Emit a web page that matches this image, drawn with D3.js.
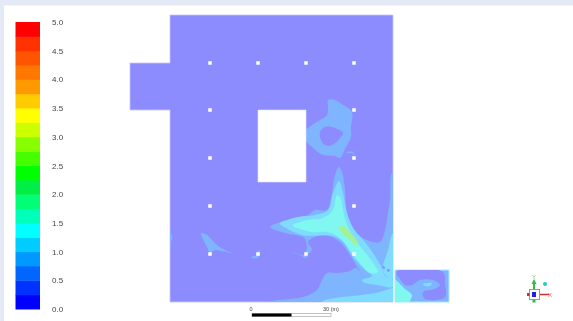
<!DOCTYPE html>
<html>
<head>
<meta charset="utf-8">
<script src="https://cdn.jsdelivr.net/npm/d3@7"></script>
<style>
  html, body { margin: 0; padding: 0; background: #fff; overflow: hidden; }
  text { font-family: "Liberation Sans", Arial, sans-serif; }
</style>
</head>
<body>
<div id="chart"></div>
<script>
// Legend: 20 bands from 0 to 5, colours listed from the bottom up
const legendColors = ['#0000ff', '#0033ff', '#0066ff', '#0099ff', '#00ccff', '#00ffff', '#00ffbb', '#00ff77', '#00ee44', '#00ff00',
    '#44ff00', '#88ff00', '#ccff00', '#ffff00', '#ffcc00', '#ff9900', '#ff7700', '#ff5500', '#ff3300', '#ff0000'];
const legendTicks = [0, 0.5, 1, 1.5, 2, 2.5, 3, 3.5, 4, 4.5, 5];

// Floor plan outlines, in model units (x from the west wall, y from the north wall)
const planOutline = [[40, 0], [263, 0], [263, 287], [40, 287], [40, 95], [0, 95], [0, 48], [40, 48]];
const coreOutline = [[128, 95], [176, 95], [176, 167], [128, 167]];
const roomOutline = [[265, 255], [319, 255], [319, 287], [265, 287]];
const columnPoints = [[80, 48], [128, 48], [176, 48], [224, 48], [80, 95], [224, 95], [80, 143], [224, 143],
    [80, 191], [224, 191], [80, 239], [128, 239], [176, 239], [224, 239]];

// Contours, band 0.25 - 0.5
const ringBand = [[198, 85], [205, 85], [213, 90], [222, 97], [221, 112], [221, 122], [216, 132], [210, 143], [205, 141],
    [193, 140], [183, 133], [174, 123], [174, 117], [185, 108], [197, 100], [198, 92]];
const ringArc = [[217, 137], [223, 137], [225, 140], [222, 138], [217, 138]];
const mainBand = [[140, 212], [158, 205], [178, 200], [185, 195], [197, 195], [202, 178], [205, 160], [209, 152], [212, 157],
    [215, 175], [217, 198], [227, 218], [237, 225], [250, 227], [255, 215], [258, 198], [260, 185], [262, 158],
    [266, 158], [266, 290], [140, 290], [140, 287], [160, 284], [173, 282], [187, 275], [192, 265], [197, 258], [207, 258],
    [220, 256], [226, 253], [234, 262], [228, 253], [220, 240], [210, 227], [198, 221], [185, 222], [178, 227], [182, 235],
    [178, 239], [175, 239], [177, 233], [175, 224], [173, 222], [155, 218]];
const patchWest = [[71, 218], [77, 220], [87, 230], [97, 236], [102, 238], [92, 236], [85, 235], [80, 238], [77, 232]];
const patchColumn = [[121, 242], [127, 240], [129, 234], [130, 240], [127, 243], [122, 243]];
const patchWall = [[38, 215], [41, 218], [42, 225], [38, 227]];
const patchSouth = [[162, 237], [170, 240], [175, 243], [178, 241], [173, 240]];

// Band 0 - 0.25 showing through the ring and the small room
const ringHole = [[190, 117], [195, 112], [205, 113], [213, 118], [210, 123], [202, 130], [195, 130], [191, 125]];
const roomCalm = [[267, 256], [313, 257], [315, 269], [315, 282], [295, 284], [293, 277], [305, 274], [310, 270], [303, 265],
    [290, 265], [282, 270], [275, 270], [270, 264], [267, 260]];
const pocketA = [[252, 251], [255, 252], [254, 254]];
const pocketB = [[257, 254], [260, 255], [258, 257]];

// Band 0.5 - 0.75
const mainInner = [[150, 208], [168, 202], [185, 200], [198, 195], [203, 178], [209, 166], [213, 178], [217, 198], [223, 213],
    [233, 225], [243, 238], [252, 253], [255, 261], [263, 265], [263, 272], [247, 270], [233, 267], [232, 265], [242, 261],
    [233, 253], [223, 242], [213, 227], [203, 221], [172, 220], [150, 209]];
const southStrip = [[193, 286], [212, 282], [223, 281], [245, 278], [263, 273], [266, 273], [266, 290], [190, 290]];
const wallStrip = [[266, 218], [263, 218], [258, 235], [253, 252], [255, 260], [263, 265], [266, 265]];
const roomSpot = [[293, 269], [302, 268], [300, 271], [295, 271]];

// Band 0.75 - 1 and the peak
const mainCore = [[163, 210], [178, 205], [193, 203], [203, 195], [207, 180], [210, 182], [213, 195], [216, 207], [223, 222],
    [233, 235], [243, 248], [248, 257], [240, 258], [230, 248], [220, 235], [210, 223], [198, 217], [182, 217], [163, 211]];
const roomBlob = [[262, 262], [265, 264], [275, 274], [282, 280], [280, 286], [278, 290], [262, 290]];
const mainPeak = [[209, 211], [213, 211], [228, 228], [227, 231], [220, 225], [210, 215]];

const scaleBarTicks = [0, 15, 30];

const width = 573;
const height = 321;

const svg = d3.select("#chart")
    .append("svg")
    .attr("width", width)
    .attr("height", height)
    .style("display", "block");

const defs = svg.append("defs");
defs.append("filter").attr("id", "soft")
    .append("feGaussianBlur").attr("stdDeviation", 0.4);
defs.append("filter").attr("id", "softer")
    .append("feGaussianBlur").attr("stdDeviation", 0.6);

// Light frame of the viewer window
svg.append("rect").attr("width", width).attr("height", 5.5).attr("fill", "#e3e9f5");
svg.append("rect").attr("width", 4).attr("height", height).attr("fill", "#e3e9f5");

const x = d3.scaleLinear().domain([0, 320]).range([130, 450]);
const y = d3.scaleLinear().domain([0, 288]).range([15, 303]);

const smooth = d3.line().x(d => x(d[0])).y(d => y(d[1])).curve(d3.curveCatmullRomClosed.alpha(0.5));
const sharp = d3.line().x(d => x(d[0])).y(d => y(d[1])).curve(d3.curveLinearClosed);

defs.append("clipPath").attr("id", "plan-clip").append("path").attr("d", sharp(planOutline));
defs.append("clipPath").attr("id", "room-clip").append("path").attr("d", sharp(roomOutline));

const calm = "#8c8cff";
const band1 = "#7fb4ff";
const band2 = "#7fdcff";
const band3 = "#80f8f0";
const peak = "#a4f294";

const map = svg.append("g").attr("filter", "url(#soft)");

// Main floor
map.append("path").attr("d", sharp(planOutline)).attr("fill", calm).attr("stroke", "#c4c4ff").attr("stroke-width", 0.8);
const floor = map.append("g").attr("clip-path", "url(#plan-clip)");
const floorLayers = [
    [ringBand, band1], [ringHole, calm], [ringArc, band1], [mainBand, band1], [patchWest, band1], [patchColumn, band1],
    [patchWall, band1], [patchSouth, band1], [mainInner, band2], [southStrip, band2], [wallStrip, band2],
    [mainCore, band3], [mainPeak, peak], [pocketA, calm], [pocketB, calm]
];
floor.selectAll("path")
    .data(floorLayers)
    .enter().append("path")
    .attr("d", d => smooth(d[0]))
    .attr("fill", d => d[1]);

// Small room
map.append("path").attr("d", sharp(roomOutline)).attr("fill", band1).attr("stroke", "#a8e4ff").attr("stroke-width", 1);
const room = map.append("g").attr("clip-path", "url(#room-clip)");
const roomLayers = [[roomCalm, calm], [roomSpot, band2], [roomBlob, band3]];
room.selectAll("path")
    .data(roomLayers)
    .enter().append("path")
    .attr("d", d => smooth(d[0]))
    .attr("fill", d => d[1]);

// Core opening and columns
map.append("path").attr("d", sharp(coreOutline)).attr("fill", "#fff").attr("stroke", "#e4e4ff").attr("stroke-width", 0.6);
map.selectAll("rect.column")
    .data(columnPoints)
    .enter().append("rect")
    .attr("class", "column")
    .attr("x", d => x(d[0]) - 1.75)
    .attr("y", d => y(d[1]) - 1.75)
    .attr("width", 3.5)
    .attr("height", 3.5)
    .attr("fill", "#fff");

// Colour legend
const legendY = d3.scaleLinear().domain([0, 5]).range([309, 22]);
const legend = svg.append("g").attr("filter", "url(#soft)");
legend.selectAll("rect")
    .data(legendColors)
    .enter().append("rect")
    .attr("x", 15.5)
    .attr("width", 24.5)
    .attr("y", (d, i) => legendY((i + 1) * 0.25))
    .attr("height", (d, i) => legendY(i * 0.25) - legendY((i + 1) * 0.25) + 0.5)
    .attr("fill", d => d);

const legendAxis = svg.append("g")
    .attr("transform", "translate(52,0)")
    .attr("filter", "url(#soft)")
    .call(d3.axisRight(legendY).tickValues(legendTicks).tickFormat(d3.format(".1f")).tickSize(0).tickPadding(0));
legendAxis.select(".domain").remove();
legendAxis.selectAll("text").style("font-size", "8px").attr("fill", "#444");

// Scale bar
const barX = d3.scaleLinear().domain([0, 30]).range([252, 331]);
const bar = svg.append("g").attr("filter", "url(#soft)");
bar.append("rect").attr("x", barX(0)).attr("y", 313.5).attr("width", barX(30) - barX(0)).attr("height", 3)
    .attr("fill", "#fff").attr("stroke", "#aaa").attr("stroke-width", 0.7);
bar.append("rect").attr("x", barX(0)).attr("y", 313.5).attr("width", barX(15) - barX(0)).attr("height", 3)
    .attr("fill", "#000");
bar.selectAll("text")
    .data([scaleBarTicks[0], scaleBarTicks[2]])
    .enter().append("text")
    .attr("x", d => d === 0 ? barX(d) - 1 : barX(d))
    .attr("y", 311)
    .attr("text-anchor", "middle")
    .style("font-size", "5.5px")
    .attr("fill", "#444")
    .text(d => d === 0 ? "0" : d + " (m)");

// Axis triad
const triad = svg.append("g").attr("filter", "url(#softer)");
triad.append("rect").attr("x", 529.5).attr("y", 289.5).attr("width", 10).attr("height", 10)
    .attr("fill", "#fff").attr("stroke", "#999").attr("stroke-width", 1);
triad.append("rect").attr("x", 532).attr("y", 292).attr("width", 4).attr("height", 5).attr("fill", "#2222dd");
triad.append("line").attr("x1", 534).attr("x2", 534).attr("y1", 289).attr("y2", 281)
    .attr("stroke", "#33bb44").attr("stroke-width", 2);
triad.append("path").attr("d", "M531.5,284 L536.5,284 L534,279 Z").attr("fill", "#33bb44");
triad.append("rect").attr("x", 532.5).attr("y", 300).attr("width", 3).attr("height", 2.5).attr("fill", "#33bb44");
triad.append("line").attr("x1", 540).attr("x2", 549).attr("y1", 294.5).attr("y2", 294.5)
    .attr("stroke", "#cc3333").attr("stroke-width", 1.5);
triad.append("rect").attr("x", 527).attr("y", 293).attr("width", 2.5).attr("height", 3).attr("fill", "#cc3333");
triad.append("circle").attr("cx", 545).attr("cy", 284).attr("r", 2).attr("fill", "#22cccc");
triad.append("text").attr("x", 534).attr("y", 279).attr("text-anchor", "middle")
    .style("font-size", "6px").attr("fill", "#66cc88").text("Y");
triad.append("text").attr("x", 548).attr("y", 296.5).style("font-size", "6px").attr("fill", "#ee6666").text("X");
</script>
</body>
</html>
